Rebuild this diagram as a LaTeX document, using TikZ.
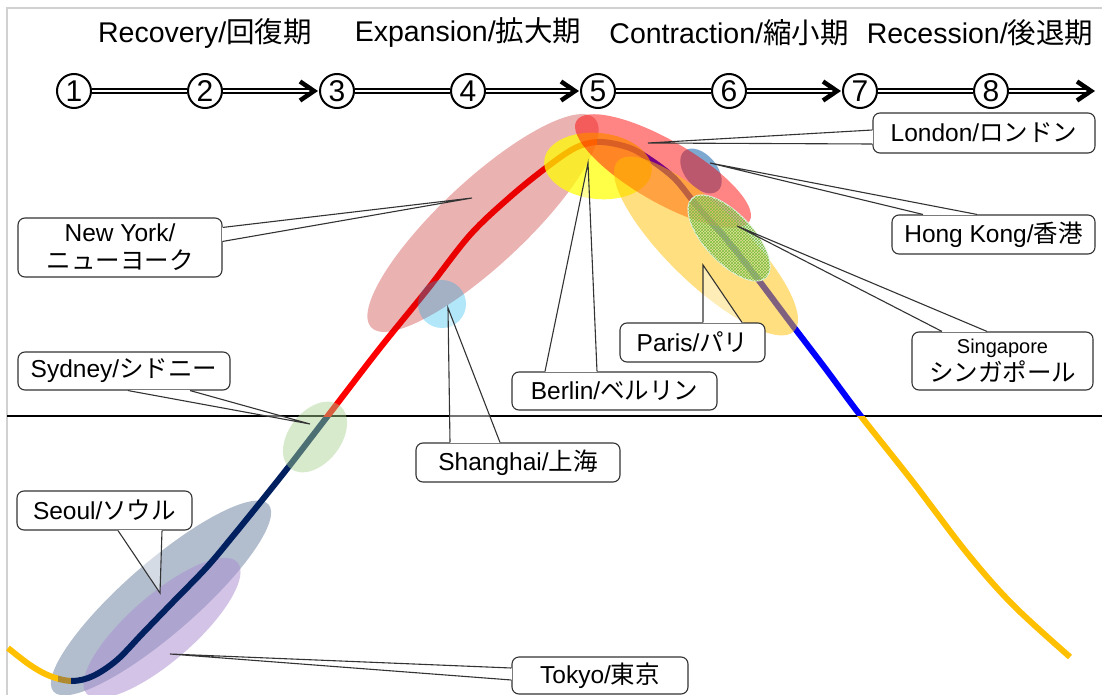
\documentclass[tikz,border=0pt]{standalone}
\usepackage{fontspec}
\setmainfont{Liberation Sans}
\newfontfamily\jp{Noto Sans CJK JP}
\usetikzlibrary{shapes.geometric,patterns,calc}
\definecolor{cyel}{HTML}{FFC000}
\definecolor{cbrown}{HTML}{B08A2E}
\definecolor{cnavy}{HTML}{002060}
\definecolor{cred}{HTML}{FF0000}
\definecolor{cblue}{HTML}{0000FF}
\definecolor{seoulC}{HTML}{8497B0}
\definecolor{tokyoC}{HTML}{A98BD0}
\definecolor{sydC}{HTML}{A9D18E}
\definecolor{nyC}{HTML}{C00000}
\definecolor{shC}{HTML}{00B0F0}
\definecolor{berC}{HTML}{FFFF00}
\definecolor{lonC}{HTML}{FF0000}
\definecolor{parC}{HTML}{FFC000}
\definecolor{hkC}{HTML}{2E75B6}
\definecolor{sgC}{HTML}{C5E0B4}
\definecolor{sgP}{HTML}{7CC040}
\definecolor{sgE}{HTML}{E2F0D9}
\newcommand\callwedge[3]{%
  \fill[white, fill opacity=.45] #1 -- #2 -- #3 -- cycle;
  \draw[white, line width=2pt] #1 -- #3;
  \draw[callline] #1 -- #2 -- #3;}
\def\maincurve{plot[smooth, tension=.55] coordinates {(8,648) (30,665) (50,676) (72,681) (93,676) (117,660) (143,633) (173,602) (207,567) (233,536) (263,499) (290,465) (330,413) (380,348) (427,290) (470,235) (510,197) (547,167) (575,148) (597,142) (620,145) (640,153) (673,177) (697,206) (727,240) (757,278) (790,322) (825,368) (860,415) (913,482) (967,553) (1013,605) (1070,657)}}
\begin{document}
\begin{tikzpicture}[x=1pt,y=-1pt,
  hdr/.style={font=\fontsize{28.5}{32}\selectfont, inner sep=0},
  num/.style={circle, draw, line width=2pt, minimum size=34pt, inner sep=0, font=\fontsize{30}{30}\selectfont},
  dbl/.style={double, double distance=2.2pt, line width=1.8pt},
  barb/.style={line width=4.5pt, line join=miter, line cap=butt},
  ell/.style={ellipse, inner sep=0, draw=none},
  box/.style={draw=black!80, line width=1.1pt, rounded corners=7pt, fill=white, inner sep=0, align=center, font=\fontsize{24.5}{28}\selectfont},
  callline/.style={line width=1.1pt, black!80},
  curve/.style={line width=6pt}
]
\useasboundingbox (0,0) rectangle (1102,695);
\fill[white] (0,0) rectangle (1102,695);
% frame
\coordinate (fbl) at (7,700);
\coordinate (ftl) at (7,8);
\coordinate (ftr) at (1110,8);
\draw[black!18, line width=1.5pt] (fbl) -- (ftl) -- (ftr);
% headers
\node[hdr] (h1) at (205,33) {Recovery/{\jp 回復期}};
\node[hdr] (h2) at (468,33) {Expansion/{\jp 拡大期}};
\node[hdr] (h3) at (729,33) {Contraction/{\jp 縮小期}};
\node[hdr] (h4) at (980,33) {Recession/{\jp 後退期}};
% phase circles
\foreach \i/\x in {1/74,2/205,3/337,4/468,5/598,6/729,7/860,8/991}
  \node[num] (c\i) at (\x,91) {\i};
\coordinate (aend) at (1096,91);
\draw[dbl] (c1) -- (c2);
\draw[dbl] (c3) -- (c4);
\draw[dbl] (c5) -- (c6);
\draw[dbl] (c7) -- (c8);
\draw[dbl] (c2) -- ($(c3.west)+(-7,0)$);
\draw[dbl] (c4) -- ($(c5.west)+(-7,0)$);
\draw[dbl] (c6) -- ($(c7.west)+(-7,0)$);
\draw[dbl] (c8) -- ($(aend)+(-7,0)$);
\foreach \t in {c3.west,c5.west,c7.west,aend}
  \draw[barb] ($(\t)+(-19,-9.5)$) -- ($(\t)+(-5,0)$) -- ($(\t)+(-19,9.5)$);
% axis
\coordinate (axl) at (7,416);
\coordinate (axr) at (1102,416);
\draw[line width=1.5pt] (axl) -- (axr);
% ellipses under the curve
\node[ell, fill=seoulC, fill opacity=.62, minimum width=285, minimum height=72, rotate=41] (eseoul) at (161,598) {};
\node[ell, fill=tokyoC, fill opacity=.5, minimum width=200, minimum height=66, rotate=41] (etokyo) at (162,628) {};
% curve
\begin{scope}\clip (0,0) rectangle (58,700); \draw[curve, cyel] \maincurve; \end{scope}
\begin{scope}\clip (58,0) rectangle (71,700); \draw[curve, cbrown] \maincurve; \end{scope}
\begin{scope}\clip (71,416) rectangle (597,700); \draw[curve, cnavy] \maincurve; \end{scope}
\begin{scope}\clip (71,0) rectangle (597,416); \draw[curve, cred] \maincurve; \end{scope}
\begin{scope}\clip (597,0) rectangle (1102,416); \draw[curve, cblue] \maincurve; \end{scope}
\begin{scope}\clip (597,416) rectangle (1102,700); \draw[curve, cyel] \maincurve; \end{scope}
% ellipses over the curve
\node[ell, fill=sydC, fill opacity=.45, minimum width=80, minimum height=52, rotate=52] (esyd) at (315,437) {};
\node[ell, fill=nyC, fill opacity=.3, minimum width=306, minimum height=85, rotate=43] (eny) at (483,223) {};
\node[ell, fill=shC, fill opacity=.3, minimum width=48, minimum height=48] (esh) at (442,304) {};
\node[ell, fill=berC, fill opacity=.72, minimum width=108, minimum height=66, rotate=-6] (eber) at (598,166) {};
\node[ell, fill=hkC, fill opacity=.62, minimum width=52, minimum height=32, rotate=-50] (ehk) at (701,171) {};
\node[ell, fill=lonC, fill opacity=.48, minimum width=200, minimum height=62, rotate=-30] (elon) at (663,171) {};
\node[ell, fill=parC, fill opacity=.5, minimum width=245, minimum height=76, rotate=-44] (epar) at (706,246) {};
\node[ell, fill=sgC, fill opacity=.45, draw=sgE, line width=1.5pt, minimum width=108, minimum height=48, rotate=-47,
  postaction={pattern=crosshatch, pattern color=sgP}] (esg) at (729,238) {};
% callouts
\node[box, minimum width=204, minimum height=59] (ny) at (120,247.5) {New York/\\{\jp ニューヨーク}};
\coordinate (nytip) at (472,198);
\callwedge{($(ny.north east)+(0,10)$)}{(nytip)}{($(ny.north east)+(0,24)$)}
\node[box, minimum width=212, minimum height=38] (syd) at (124,371) {Sydney/{\jp シドニー}};
\coordinate (sydtip) at (310,424);
\callwedge{($(syd.south)+(4,0)$)}{(sydtip)}{($(syd.south)+(66,0)$)}
\node[box, minimum width=175, minimum height=39] (seoul) at (104.5,510.5) {Seoul/{\jp ソウル}};
\coordinate (seoultip) at (160,593);
\callwedge{($(seoul.south)+(13.5,0)$)}{(seoultip)}{($(seoul.south)+(57.5,0)$)}
\node[box, minimum width=176, minimum height=37] (tokyo) at (600,675.5) {Tokyo/{\jp 東京}};
\coordinate (tokyotip) at (170,654);
\callwedge{($(tokyo.west)+(0,-7.5)$)}{(tokyotip)}{($(tokyo.west)+(0,4.5)$)}
\node[box, minimum width=204, minimum height=39] (sh) at (518,462.5) {Shanghai/{\jp 上海}};
\coordinate (shtip) at (448,308);
\callwedge{($(sh.north)+(-68,0)$)}{(shtip)}{($(sh.north)+(-18,0)$)}
\node[box, minimum width=205, minimum height=38] (ber) at (614.5,391) {Berlin/{\jp ベルリン}};
\coordinate (bertip) at (588,163);
\callwedge{($(ber.north)+(-69.5,0)$)}{(bertip)}{($(ber.north)+(-17.5,0)$)}
\node[box, minimum width=145, minimum height=39] (par) at (692.5,342.5) {Paris/{\jp パリ}};
\coordinate (partip) at (703,265);
\callwedge{($(par.north)+(10.5,0)$)}{(partip)}{($(par.north)+(49.5,0)$)}
\node[box, minimum width=181, minimum height=58] (sg) at (1002.5,361) {{\fontsize{20}{25}\selectfont Singapore}\\{\jp シンガポール}};
\coordinate (sgtip) at (737,226);
\callwedge{($(sg.north)+(-60.5,0)$)}{(sgtip)}{($(sg.north)+(-15.5,0)$)}
\node[box, minimum width=203, minimum height=39] (hk) at (993.5,234.5) {Hong Kong/{\jp 香港}};
\coordinate (hktip) at (710,163);
\callwedge{($(hk.north)+(-70.5,0)$)}{(hktip)}{($(hk.north)+(-16.5,0)$)}
\node[box, minimum width=222, minimum height=40] (lon) at (984,133) {London/{\jp ロンドン}};
\coordinate (lontip) at (648,143);
\callwedge{($(lon.west)+(0,-3)$)}{(lontip)}{($(lon.west)+(0,11)$)}
\end{tikzpicture}
\end{document}
